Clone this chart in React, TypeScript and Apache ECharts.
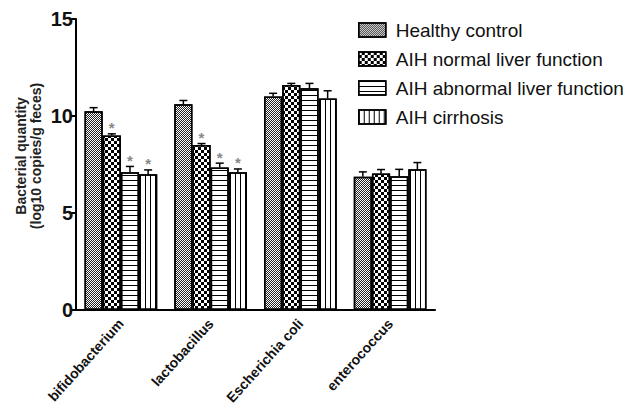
import React, { useEffect, useRef } from "react";
import * as echarts from "echarts";

const categories = ["bifidobacterium", "lactobacillus", "Escherichia coli", "enterococcus"];
const seriesNames = ["Healthy control", "AIH normal liver function", "AIH abnormal liver function", "AIH cirrhosis"];
const healthy = [10.25, 10.6, 11.0, 6.87];
const healthyErr = [0.18, 0.2, 0.17, 0.25];
const normal = [9.0, 8.5, 11.6, 7.04];
const normalErr = [0.08, 0.08, 0.08, 0.2];
const abnormal = [7.1, 7.35, 11.43, 6.9];
const abnormalErr = [0.3, 0.22, 0.25, 0.35];
const cirrhosis = [7.0, 7.1, 10.9, 7.25];
const cirrhosisErr = [0.22, 0.17, 0.4, 0.35];
const healthySig = [0, 0, 0, 0];
const normalSig = [1, 1, 0, 0];
const abnormalSig = [1, 1, 0, 0];
const cirrhosisSig = [1, 1, 0, 0];
const yTicks = [0, 5, 10, 15];

const values = [healthy, normal, abnormal, cirrhosis];
const errs = [healthyErr, normalErr, abnormalErr, cirrhosisErr];
const sigs = [healthySig, normalSig, abnormalSig, cirrhosisSig];

const decals: any[] = [
  { symbol: "rect", symbolSize: 1, symbolKeepAspect: false, color: "#222", dashArrayX: [[1, 1], [0, 1, 1, 0]], dashArrayY: [1, 0] },
  { symbol: "rect", symbolSize: 1, symbolKeepAspect: false, color: "#000", dashArrayX: [[3, 3], [0, 3, 3, 0]], dashArrayY: [3, 0] },
  { symbol: "rect", symbolSize: 1, symbolKeepAspect: false, color: "#000", dashArrayX: [5, 0], dashArrayY: [1, 4] },
  { symbol: "rect", symbolSize: 1, symbolKeepAspect: false, color: "#000", dashArrayX: [1, 4], dashArrayY: [5, 0] },
];

const CAT_GAP = 0.19;

export default function App() {
  const ref = useRef<HTMLDivElement>(null);
  useEffect(() => {
    if (!ref.current) return;
    const chart = echarts.init(ref.current, undefined, { renderer: "svg" });
    const n = seriesNames.length;
    const barSeries = seriesNames.map((name, i) => ({
      name,
      type: "bar",
      data: values[i],
      barGap: "0%",
      barCategoryGap: CAT_GAP * 100 + "%",
      itemStyle: { color: "#fff", borderColor: "#000", borderWidth: 1.5, decal: decals[i] },
      z: 2,
    }));
    const errSeries = seriesNames.map((name, i) => ({
      type: "custom",
      name: name + "_err",
      data: values[i].map((v, k) => [k, v, errs[i][k], sigs[i][k]]),
      encode: { x: 0, y: 1 },
      z: 3,
      renderItem: (params: any, api: any) => {
        const idx = api.value(0);
        const v = api.value(1);
        const e = api.value(2);
        const s = api.value(3);
        const band = api.size([1, 0])[0];
        const barW = (band * (1 - CAT_GAP)) / n;
        const base = api.coord([idx, v]);
        const top = api.coord([idx, v + e]);
        const cx = base[0] - (band * (1 - CAT_GAP)) / 2 + (i + 0.5) * barW;
        const children: any[] = [
          { type: "line", shape: { x1: cx, y1: base[1], x2: cx, y2: top[1] }, style: { stroke: "#000", lineWidth: 1.5 } },
          { type: "line", shape: { x1: cx - 4, y1: top[1], x2: cx + 4, y2: top[1] }, style: { stroke: "#000", lineWidth: 1.5 } },
        ];
        if (s) {
          children.push({
            type: "text",
            x: cx,
            y: top[1] - 6,
            style: { text: "*", fill: "#888", font: "bold 15px Liberation Sans", textAlign: "center", textVerticalAlign: "middle" },
          });
        }
        return { type: "group", children };
      },
    }));
    chart.setOption({
      animation: false,
      backgroundColor: "#fff",
      grid: { left: 76, right: 198, top: 19, bottom: 102, containLabel: false },
      legend: {
        orient: "vertical",
        left: 353,
        top: 14,
        data: seriesNames,
        icon: "rect",
        itemWidth: 27,
        itemHeight: 14,
        itemGap: 7,
        itemStyle: { borderColor: "#000", borderWidth: 1.5 },
        textStyle: { fontFamily: "Liberation Sans", fontSize: 19, color: "#111", lineHeight: 22, padding: [0, 0, 0, 5] },
      },
      xAxis: {
        type: "category",
        data: categories,
        axisLine: { lineStyle: { color: "#000", width: 2 } },
        axisTick: { show: false },
        axisLabel: { rotate: 48, margin: 11, fontFamily: "Liberation Sans", fontWeight: "bold", fontSize: 14, color: "#111" },
      },
      yAxis: {
        type: "value",
        min: yTicks[0],
        max: yTicks[yTicks.length - 1],
        interval: 5,
        splitLine: { show: false },
        axisLine: { show: true, lineStyle: { color: "#000", width: 2 } },
        axisTick: { show: true, length: 5, lineStyle: { color: "#000", width: 2 } },
        axisLabel: { margin: 3, fontFamily: "Liberation Sans", fontWeight: "bold", fontSize: 20, color: "#111" },
      },
      graphic: [
        { type: "text", x: 21, y: 156, rotation: Math.PI / 2, style: { text: "Bacterial quantity", font: "bold 14px Liberation Sans", fill: "#222", textAlign: "center", textVerticalAlign: "middle" } },
        { type: "text", x: 36, y: 156, rotation: Math.PI / 2, style: { text: "(log10 copies/g feces)", font: "bold 14px Liberation Sans", fill: "#222", textAlign: "center", textVerticalAlign: "middle" } },
      ],
      series: [...barSeries, ...errSeries],
    });
    return () => chart.dispose();
  }, []);
  return <div ref={ref} style={{ width: 633, height: 412, position: "absolute", left: 0, top: 0 }} />;
}
